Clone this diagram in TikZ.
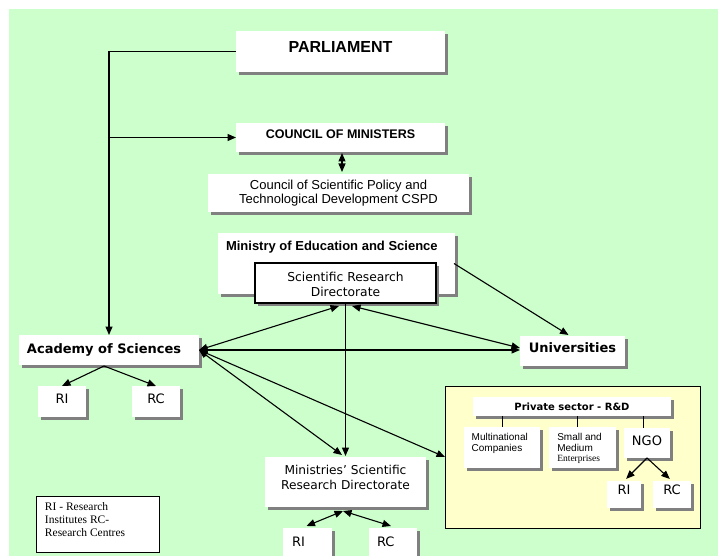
\documentclass[tikz,border=0pt]{standalone}
\usepackage{fontspec}
\setmainfont{Liberation Sans}
\newfontfamily\arl{Liberation Sans}
\newfontfamily\vrd{DejaVu Sans}
\newfontfamily\tms{Liberation Serif}
\usetikzlibrary{arrows.meta,shadows,calc}
\definecolor{bggreen}{HTML}{CCFFCC}
\definecolor{bgyellow}{HTML}{FFFFCC}
\definecolor{shgray}{HTML}{808080}
\newcommand{\fls}{\rule{0pt}{10pt}}
\newcommand{\bt}[4]{\parbox[c][#2pt][t]{#1pt}{\vspace*{\dimexpr#3pt-10pt\relax}#4}}
\newcommand{\fs}[2]{\fontsize{#1}{#2}\selectfont}
\begin{document}
\begin{tikzpicture}[x=1pt,y=-1pt,
  bx/.style={fill=white,inner sep=0pt,outer sep=0pt,anchor=north west,
    drop shadow={shadow xshift=3pt,shadow yshift=-3pt,opacity=1,fill=shgray}},
  framedbx/.style={bx,draw=black,line width=1.2pt},
  conn/.style={line width=1.1pt,-{Triangle[length=8.5pt,width=7pt]}},
  dconn/.style={line width=1.1pt,{Triangle[length=8.5pt,width=7pt]}-{Triangle[length=8.5pt,width=7pt]}},
  plain/.style={line width=1pt}]
\useasboundingbox (0,0) rectangle (718,556);
\fill[bggreen] (9,9) rectangle (718,556);

% top
\node[bx] (parl) at (236,31) {\bt{209}{41}{20.7}{\centering\arl\bfseries\fs{16}{18}\fls PARLIAMENT\par}};
\node[bx] (council) at (236,123) {\bt{209}{29}{15.3}{\centering\arl\bfseries\fs{12.5}{14}\fls COUNCIL OF MINISTERS\par}};
\node[bx] (cspd) at (208,174) {\bt{261}{38}{15.3}{\centering\arl\fs{13}{14.7}\fls Council of Scientific Policy and\\Technological Development CSPD\par}};
\node[bx] (ministry) at (218,233) {\bt{237}{61}{17.7}{\raggedright\leftskip=8pt\arl\bfseries\fs{13}{15}\fls Ministry of Education and Science\par}};
\node[framedbx] (srd) at (255,263) {\bt{181}{40}{18.7}{\centering\vrd\fs{12.3}{14.5}\fls Scientific Research\\Directorate\par}};

% middle
\node[bx] (academy) at (19,335) {\bt{180}{30}{18.3}{\raggedright\leftskip=8pt\vrd\bfseries\fs{13}{15}\fls Academy of Sciences\par}};
\node[bx] (univ) at (520,336) {\bt{105}{30}{16.7}{\centering\vrd\bfseries\fs{13}{15}\fls Universities\par}};
\node[bx] (ari) at (38,386) {\bt{48}{31}{17.3}{\centering\vrd\fs{13}{15}\fls RI\par}};
\node[bx] (arc) at (132,386) {\bt{48}{31}{17.3}{\centering\vrd\fs{13}{15}\fls RC\par}};

% private sector
\node[fill=bgyellow,draw=black,line width=0.9pt,inner sep=0pt,outer sep=0pt,anchor=north west,minimum width=255pt,minimum height=142pt] (yel) at (445,386) {};
\node[bx] (priv) at (473,397) {\bt{198}{19}{13.7}{\centering\vrd\bfseries\fs{10}{12}\fls Private sector - R\&D\par}};
\node[bx] (multi) at (464,427) {\bt{76}{41}{13}{\raggedright\leftskip=7.7pt\arl\fs{10}{11.7}\fls Multinational\\Companies\par}};
\node[bx] (small) at (549,427) {\bt{67}{41}{13}{\raggedright\leftskip=8.3pt\arl\fs{10}{11.7}\fls Small and\\Medium\par{\tms\fs{9.5}{10}Enterprises\par}}};
\node[bx] (ngo) at (624,428) {\bt{46}{30}{17}{\centering\vrd\fs{13}{15}\fls NGO\par}};
\node[bx] (ngori) at (607,481) {\bt{34}{27}{13.5}{\centering\vrd\fs{13}{15}\fls RI\par}};
\node[bx] (ngorc) at (653,481) {\bt{38}{27}{13.5}{\centering\vrd\fs{13}{15}\fls RC\par}};

% bottom
\node[bx] (msrd) at (265,457) {\bt{161}{50}{17.3}{\centering\vrd\fs{12.2}{15}\fls Ministries’ Scientific\\Research Directorate\par}};
\node[bx] (mri) at (283,528) {\bt{49}{32}{18.7}{\raggedright\leftskip=9pt\vrd\fs{13}{15}\fls RI\par}};
\node[bx] (mrc) at (369,528) {\bt{48}{32}{18.7}{\raggedright\leftskip=8pt\vrd\fs{13}{15}\fls RC\par}};
\node[fill=white,draw=black,line width=0.8pt,inner sep=0pt,outer sep=0pt,anchor=north west] (legend) at (36,496) {\bt{123}{56}{14.7}{\raggedright\leftskip=9pt\tms\fs{11.5}{12.7}\fls RI - Research\\Institutes RC-\\Research Centres\par}};

% connectors
\coordinate (cj) at (parl.west -| academy.north);
\draw[conn,line width=1.3pt] (parl.west) -- (cj) -- (academy.north);
\coordinate (cm) at (council.west -| academy.north);
\draw[conn] (cm) -- (council.west);
\draw[dconn] ($(council.south)+(1.5,1)$) -- ($(council.south |- cspd.north)+(1.5,-2)$);

\coordinate (ac) at (academy.east);
\coordinate (s1) at ($(srd.south)+(-6.5,3)$);
\coordinate (s2) at ($(srd.south)+(6.5,3)$);
\draw[dconn] (ac) -- (s1);
\draw[dconn] (s2) -- ($(univ.west)+(0,-3)$);
\draw[dconn] (ac) -- (ac -| univ.west);
\draw[dconn] (ac) -- ($(msrd.north)+(-3.5,-2)$);
\draw[conn] (srd.south) -- ($(srd.south |- msrd.north)+(0,-1)$);
\draw[dconn] (ac) -- (yel.west);
\draw[conn] ($(ministry.east)+(-1,0)$) -- ($(univ.north)+(-4,-1)$);

\coordinate (ab) at ($(academy.south)+(-5,1)$);
\draw[conn] (ab) -- (ari.north);
\draw[conn] (ab) -- (arc.north);

\coordinate (mb) at ($(msrd.south)+(-2.5,4)$);
\draw[dconn] (mb) -- ($(mri.north)+(-1,-2)$);
\draw[dconn] (mb) -- ($(mrc.north)+(-2,-2)$);

\draw[conn,shorten >=3pt] (ngo.south) -- (ngori.north);
\draw[conn,shorten >=3pt] (ngo.south) -- (ngorc.north);

\draw[plain] (multi.north) -- (multi.north |- priv.south);
\draw[plain] ($(small.north)+(-5.5,0)$) -- ($(small.north |- priv.south)+(-5.5,0)$);
\draw[plain] ($(ngo.north)+(-4,0)$) -- ($(ngo.north |- priv.south)+(-4,0)$);
\end{tikzpicture}
\end{document}
